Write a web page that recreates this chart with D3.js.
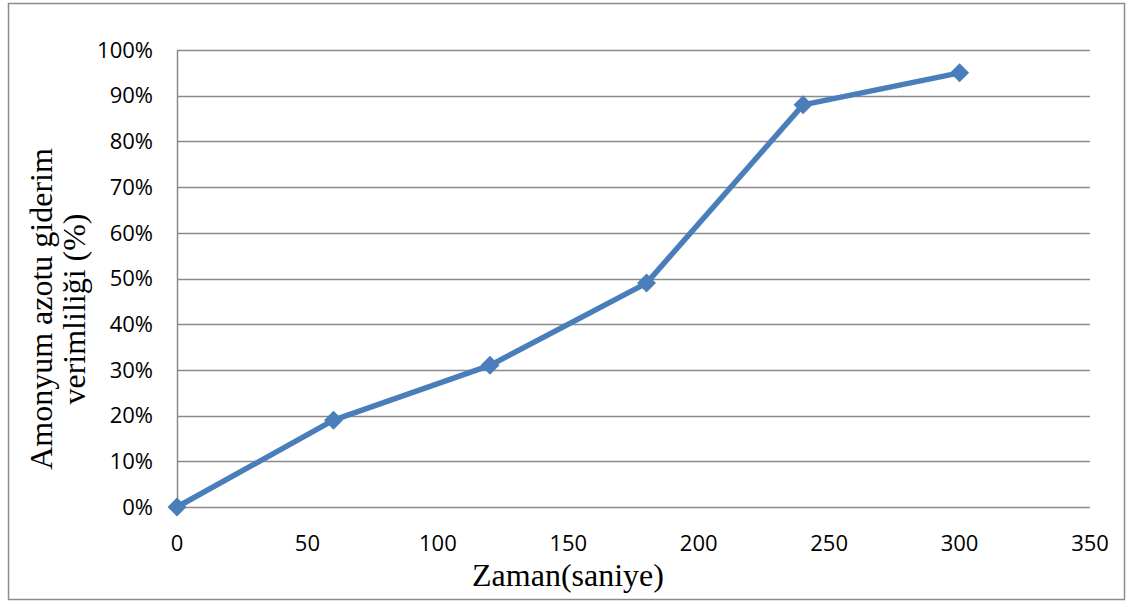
<!DOCTYPE html>
<html>
<head>
<meta charset="utf-8">
<script src="https://cdn.jsdelivr.net/npm/d3@7"></script>
<style>
  body { margin: 0; background: #fff; }
  svg { display: block; }
</style>
</head>
<body>
<script>
  /***** Data *****/
  var seconds = [0, 60, 120, 180, 240, 300];
  var efficiency = [0, 0.19, 0.31, 0.49, 0.88, 0.95];
  var xTicks = [0, 50, 100, 150, 200, 250, 300, 350];
  var yTicks = [0, 0.1, 0.2, 0.3, 0.4, 0.5, 0.6, 0.7, 0.8, 0.9, 1];

  /***** Configuration *****/
  var W = 1127, H = 601;
  var margin = { top: 50, right: 37, bottom: 94, left: 177 };
  var width = W - margin.left - margin.right;
  var height = H - margin.top - margin.bottom;

  var x = d3.scaleLinear().domain([0, 350]).range([0, width]);
  var y = d3.scaleLinear().domain([0, 1]).range([height, 0]);

  var svg = d3.select("body").append("svg")
    .attr("width", W)
    .attr("height", H);

  // outer frame
  svg.append("rect")
    .attr("x", 8.5).attr("y", 3.5)
    .attr("width", 1116).attr("height", 596)
    .attr("fill", "none")
    .attr("stroke", "#8c8c8c")
    .attr("stroke-width", 1.5);

  var g = svg.append("g")
    .attr("transform", "translate(" + margin.left + "," + margin.top + ")");

  // horizontal gridlines
  g.selectAll("line.grid")
    .data(yTicks)
    .enter().append("line")
    .attr("class", "grid")
    .attr("x1", 0).attr("x2", width)
    .attr("y1", function (d) { return Math.round(y(d)) + 0.5; })
    .attr("y2", function (d) { return Math.round(y(d)) + 0.5; })
    .attr("stroke", "#8a8a8a")
    .attr("stroke-width", 1.5);

  // left axis line
  g.append("line")
    .attr("x1", 0.5).attr("x2", 0.5)
    .attr("y1", 0).attr("y2", height)
    .attr("stroke", "#8a8a8a")
    .attr("stroke-width", 1.5);

  var tickFont = "'Open Sans', 'Noto Sans', sans-serif";

  // y tick labels
  g.selectAll("text.ytick")
    .data(yTicks)
    .enter().append("text")
    .attr("class", "ytick")
    .attr("x", -24)
    .attr("y", function (d) { return y(d); })
    .attr("dy", "0.35em")
    .attr("text-anchor", "end")
    .style("font-family", tickFont)
    .style("font-size", "22px")
    .attr("fill", "#000")
    .text(d3.format(".0%"));

  // x tick labels
  g.selectAll("text.xtick")
    .data(xTicks)
    .enter().append("text")
    .attr("class", "xtick")
    .attr("x", function (d) { return x(d); })
    .attr("y", height + 36)
    .attr("dy", "0.35em")
    .attr("text-anchor", "middle")
    .style("font-family", tickFont)
    .style("font-size", "22px")
    .attr("fill", "#000")
    .text(function (d) { return d; });

  /***** Series *****/
  var points = seconds.map(function (s, i) { return [s, efficiency[i]]; });

  var line = d3.line()
    .x(function (d) { return x(d[0]); })
    .y(function (d) { return y(d[1]); });

  g.append("path")
    .datum(points)
    .attr("d", line)
    .attr("fill", "none")
    .attr("stroke", "#4a7ebb")
    .attr("stroke-width", 5.5)
    .attr("stroke-linejoin", "round");

  g.selectAll("path.marker")
    .data(points)
    .enter().append("path")
    .attr("class", "marker")
    .attr("d", d3.symbol().type(d3.symbolSquare).size(180))
    .attr("transform", function (d) {
      return "translate(" + x(d[0]) + "," + y(d[1]) + ") rotate(45)";
    })
    .attr("fill", "#4a7ebb");

  /***** Axis titles *****/
  var titleFont = "'Liberation Serif', 'Times New Roman', serif";

  svg.append("text")
    .attr("x", 568)
    .attr("y", 586)
    .attr("text-anchor", "middle")
    .style("font-family", titleFont)
    .style("font-size", "32px")
    .attr("fill", "#000")
    .text("Zaman(saniye)");

  var yTitle = svg.append("text")
    .attr("transform", "translate(52,309) rotate(-90)")
    .attr("text-anchor", "middle")
    .style("font-family", titleFont)
    .style("font-size", "32px")
    .attr("fill", "#000");
  yTitle.append("tspan").attr("x", 0).attr("y", 0).text("Amonyum azotu giderim");
  yTitle.append("tspan").attr("x", 0).attr("y", 33).text("verimliliği (%)");
</script>
</body>
</html>
